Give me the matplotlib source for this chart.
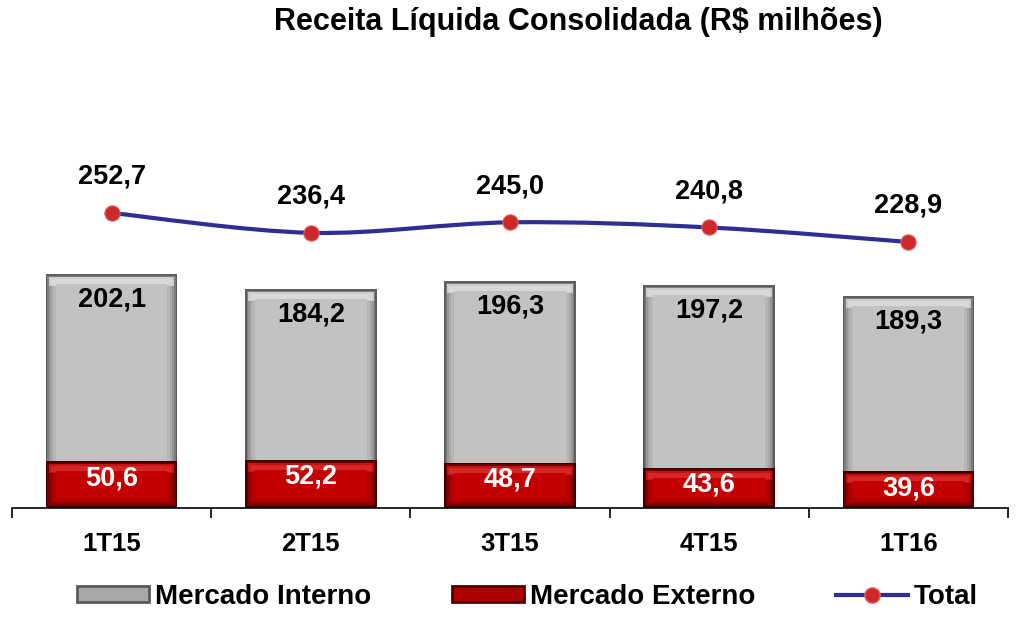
import matplotlib.pyplot as plt
import numpy as np
from matplotlib.path import Path
from matplotlib.patches import PathPatch, Patch
from matplotlib.lines import Line2D

plt.rcParams["font.family"] = ["Liberation Sans", "DejaVu Sans"]
plt.rcParams["font.weight"] = "bold"

trimestres = ["1T15", "2T15", "3T15", "4T15", "1T16"]
mercado_interno = [202.1, 184.2, 196.3, 197.2, 189.3]
mercado_externo = [50.6, 52.2, 48.7, 43.6, 39.6]
total = [252.7, 236.4, 245.0, 240.8, 228.9]

x = np.arange(len(trimestres))
largura = 0.66
ymax = 506

fig = plt.figure(figsize=(10.24, 6.22), dpi=100)
ax = fig.add_axes([0.0117, 0.1833, 0.9727, 0.7524])
ax2 = ax.twinx()
ax.set_xlim(-0.5, len(trimestres) - 0.5)
ax.set_ylim(0, ymax)
ax2.set_ylim(10.5, 394.7)

# pixels -> unidades de dados (para o efeito de bisel)
px_x = 5 / (1024 * 0.9727)
px_y = ymax / (622 * 0.7524)


def barras_bisel(ax, heights, camadas, face, brilho):
    h = np.asarray(heights, dtype=float)
    for inset, cor in camadas:
        ax.bar(x, h - 2 * inset * px_y, largura - 2 * inset * px_x,
               bottom=inset * px_y, color=cor, linewidth=0, zorder=2)
    # brilho suave no topo
    for (ini, alt), cor in zip([(3, 9), (5, 6)], brilho):
        ax.bar(x, alt * px_y, largura - 2 * ini * px_x,
               bottom=h - (ini + alt) * px_y, color=cor, linewidth=0, zorder=2)
    ax.bar(x, h - 20 * px_y, largura - 20 * px_x, bottom=10 * px_y,
           color=face, linewidth=0, zorder=2)


barras_bisel(ax, total,
             [(0, "#5e5e5e"), (1.5, "#7c7c7c"), (3, "#959595"),
              (5, "#a8a8a8"), (7, "#b6b6b6")],
             "#c2c2c2", ["#cdcdcd", "#d8d8d8"])
barras_bisel(ax, mercado_externo,
             [(0, "#400000"), (1.5, "#680000"), (3, "#880000"),
              (5, "#a00000"), (7, "#b40000")],
             "#c40000", ["#c81010", "#d42626"])

for xi, t, mi in zip(x, total, mercado_interno):
    ax.annotate(f"{mi:.1f}".replace(".", ","), (xi, t), xytext=(0, -25),
                textcoords="offset pixels", ha="center", va="center",
                fontsize=19.5, fontweight="bold", color="black", zorder=5)
for xi, me in zip(x, mercado_externo):
    ax.annotate(f"{me:.1f}".replace(".", ","), (xi, me), xytext=(0, -17),
                textcoords="offset pixels", ha="center", va="center",
                fontsize=19.5, fontweight="bold", color="white", zorder=5)

# linha suavizada (Catmull-Rom -> Bezier) passando pelos pontos do total
pts = np.column_stack([x, total]).astype(float)
verts = [tuple(pts[0])]
codes = [Path.MOVETO]
for i in range(len(pts) - 1):
    p0 = pts[i - 1] if i > 0 else pts[i]
    p1, p2 = pts[i], pts[i + 1]
    p3 = pts[i + 2] if i + 2 < len(pts) else pts[i + 1]
    c1 = p1 + (p2 - p0) / 6
    c2 = p2 - (p3 - p1) / 6
    verts += [tuple(c1), tuple(c2), tuple(p2)]
    codes += [Path.CURVE4] * 3
ax2.add_patch(PathPatch(Path(verts, codes), facecolor="none",
                        edgecolor="#2e2e94", linewidth=3, zorder=3))
ax2.plot(x, total, linestyle="none", marker="o", markersize=11,
         markerfacecolor="#cc2a2a", markeredgecolor="#e06060",
         markeredgewidth=0.8, zorder=4)
for xi, t in zip(x, total):
    ax2.annotate(f"{t:.1f}".replace(".", ","), (xi, t), xytext=(0, 36),
                 textcoords="offset pixels", ha="center", va="center",
                 fontsize=19.5, fontweight="bold", color="black")

for a in (ax, ax2):
    for s in ("top", "right", "left"):
        a.spines[s].set_visible(False)
ax2.spines["bottom"].set_visible(False)
ax2.set_yticks([])
ax.set_yticks([])
ax.spines["bottom"].set_linewidth(1.2)
ax.set_xticks(x)
ax.set_xticklabels(trimestres, fontsize=18.5, fontweight="bold")
ax.tick_params(axis="x", which="major", length=0, pad=17)
ax.set_xticks(np.arange(-0.5, len(trimestres)), minor=True)
ax.tick_params(axis="x", which="minor", length=7, width=1.2, direction="out")

fig.text(0.5645, 0.965, "Receita Líquida Consolidada (R$ milhões)",
         ha="center", va="center", fontsize=22, fontweight="bold")

handles = [
    Patch(facecolor="#a8a8a8", edgecolor="#5a5a5a", linewidth=2),
    Patch(facecolor="#b00000", edgecolor="#500000", linewidth=2),
    Line2D([], [], color="#2e2e94", linewidth=3, marker="o", markersize=11,
           markerfacecolor="#cc2a2a", markeredgecolor="#e06060"),
]
fig.legend(handles, ["Mercado Interno", "Mercado Externo", "Total"],
           loc="center", bbox_to_anchor=(0.515, 0.04), ncol=3, frameon=False,
           fontsize=20, handlelength=2.6, handleheight=0.5,
           handletextpad=0.2, columnspacing=2.9)

fig.savefig("out.png", dpi=100)
